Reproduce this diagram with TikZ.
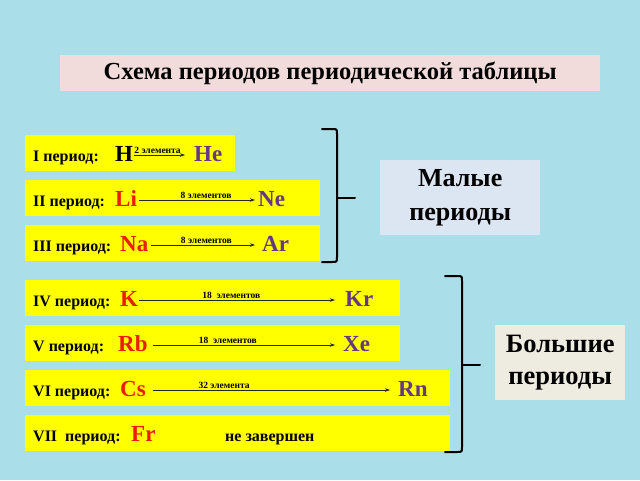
\documentclass[tikz,border=0pt]{standalone}
\usepackage{fontspec}
\setmainfont{Liberation Serif}
\usetikzlibrary{arrows.meta}
\definecolor{bg}{RGB}{170,222,232}
\definecolor{ylw}{RGB}{255,255,0}
\definecolor{titlebg}{RGB}{242,220,219}
\definecolor{smallbg}{RGB}{220,230,242}
\definecolor{bigbg}{RGB}{238,236,225}
\definecolor{elred}{RGB}{235,30,0}
\definecolor{elpurple}{RGB}{100,55,135}
\tikzset{
  ybox/.style={fill=ylw, draw=none, minimum height=36pt, anchor=north west, inner sep=0},
  plabel/.style={font=\bfseries\fontsize{16}{16}\selectfont, anchor=base west, inner sep=0},
  elL/.style={font=\bfseries\fontsize{23}{23}\selectfont, text=elred, anchor=base west, inner sep=0},
  elR/.style={font=\bfseries\fontsize{23}{23}\selectfont, text=elpurple, anchor=base west, inner sep=0},
  conn/.style={-{Stealth[length=5pt,width=3.5pt]}, line width=0.7pt, draw=black!85},
  cnt/.style={font=\bfseries\fontsize{9.5}{9.5}\selectfont, above, inner sep=1.5pt},
  bracestyle/.style={line width=2pt, line cap=round, line join=round},
  sidebox/.style={draw=none, minimum width=160pt, minimum height=75pt, anchor=north west, align=center,
    font=\bfseries\fontsize{26}{34}\selectfont}
}
\begin{document}
\begin{tikzpicture}[x=1pt,y=-1pt]
\fill[bg] (0,0) rectangle (640,480);
\useasboundingbox (0,0) rectangle (640,480);
% title
\node[fill=titlebg, minimum width=540pt, minimum height=36pt, anchor=north west, inner sep=0,
  font=\bfseries\fontsize{24.5}{24.5}\selectfont] (title) at (60,55) {Схема периодов периодической таблицы};
% yellow boxes
\node[ybox, minimum width=210pt] (b1) at (25,135) {};
\node[ybox, minimum width=295pt] (b2) at (25,180) {};
\node[ybox, minimum width=295pt] (b3) at (25,225) {};
\node[ybox, minimum width=375pt] (b4) at (25,280) {};
\node[ybox, minimum width=375pt] (b5) at (25,325) {};
\node[ybox, minimum width=425pt] (b6) at (25,370) {};
\node[ybox, minimum width=425pt] (b7) at (25,415) {};
% row I
\node[plabel] (l1) at (33,161) {I период:};
\node[elL, text=black] (H) at (115,161) {H};
\node[elR] (He) at (194,161) {He};
\draw[conn, shorten <=1pt, shorten >=9pt] ([yshift=6pt]H.base east) -- node[cnt, pos=0.40] {2 элемента} ([yshift=6pt]He.base west);
% row II
\node[plabel] (l2) at (33,206) {II период:};
\node[elL] (Li) at (115,206) {Li};
\node[elR] (Ne) at (258,206) {Ne};
\draw[conn, shorten <=2pt, shorten >=3pt] ([yshift=6pt]Li.base east) -- node[cnt, pos=0.57] {8 элементов} ([yshift=6pt]Ne.base west);
% row III
\node[plabel] (l3) at (33,251) {III период:};
\node[elL] (Na) at (120,251) {Na};
\node[elR] (Ar) at (262,251) {Ar};
\draw[conn, shorten <=2pt, shorten >=7pt] ([yshift=6pt]Na.base east) -- node[cnt, pos=0.51] {8 элементов} ([yshift=6pt]Ar.base west);
% row IV
\node[plabel] (l4) at (33,306) {IV период:};
\node[elL] (K) at (120,306) {K};
\node[elR] (Kr) at (345,306) {Kr};
\draw[conn, shorten <=1pt, shorten >=10pt] ([yshift=6pt]K.base east) -- node[cnt, pos=0.45] {18\ \ элементов} ([yshift=6pt]Kr.base west);
% row V
\node[plabel] (l5) at (33,351) {V период:};
\node[elL] (Rb) at (118,351) {Rb};
\node[elR] (Xe) at (343,351) {Xe};
\draw[conn, shorten <=5pt, shorten >=8pt] ([yshift=6pt]Rb.base east) -- node[cnt, pos=0.41] {18\ \ элементов} ([yshift=6pt]Xe.base west);
% row VI
\node[plabel] (l6) at (33,396) {VI период:};
\node[elL] (Cs) at (120,396) {Cs};
\node[elR] (Rn) at (398,396) {Rn};
\draw[conn, shorten <=7pt, shorten >=8pt] ([yshift=6pt]Cs.base east) -- node[cnt, pos=0.31] {32 элемента} ([yshift=6pt]Rn.base west);
% row VII
\node[plabel] (l7) at (33,441) {VII\ \ период:};
\node[elL] (Fr) at (131,441) {Fr};
\node[plabel] (nz) at (225,441) {не завершен};
% braces
\draw[bracestyle] (322,129) -- (332,129) .. controls (337,129) .. (337,134) -- (337,257) .. controls (337,262) .. (332,262) -- (322,262);
\draw[bracestyle] (337,198) -- (355,198);
\draw[bracestyle] (445,276) -- (457,276) .. controls (462,276) .. (462,281) -- (462,447) .. controls (462,452) .. (457,452) -- (445,452);
\draw[bracestyle] (462,365) -- (480,365);
% side boxes
\node[sidebox, fill=smallbg] (small) at (380,160) {Малые\\периоды};
\node[sidebox, fill=bigbg, minimum width=130pt, font=\bfseries\fontsize{26.5}{32}\selectfont] (big) at (495,325) {Большие\\периоды};
\end{tikzpicture}
\end{document}
